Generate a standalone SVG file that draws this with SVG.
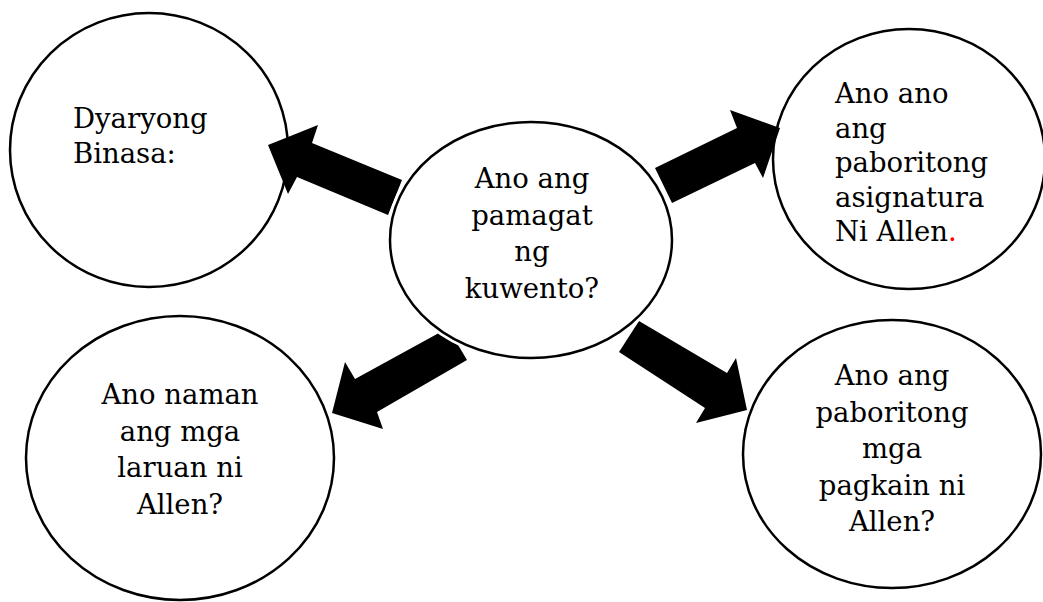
<svg xmlns="http://www.w3.org/2000/svg" width="1043" height="602" viewBox="0 0 1043 602">
<style>
.node{fill:#fff;stroke:#000;stroke-width:2.5}
.halo{fill:none;stroke:#fff;stroke-width:8}
.arrow{fill:#000;stroke:none}
text{font-family:"DejaVu Serif","Liberation Serif",serif;font-size:27.5px;fill:#000}
.c{text-anchor:middle}
.red{fill:#ff0000}
</style>
<rect width="1043" height="602" fill="#fff"/>
<g id="node-dyaryong">
<ellipse class="node" cx="149" cy="150" rx="139" ry="137"/>
<text x="73" y="128">Dyaryong</text>
<text x="73" y="163">Binasa:</text>
</g>
<g id="node-asignatura">
<ellipse class="node" cx="909" cy="159" rx="136" ry="130"/>
<text x="835" y="103">Ano ano</text>
<text x="835" y="137.5">ang</text>
<text x="835" y="172">paboritong</text>
<text x="835" y="206.5">asignatura</text>
<text x="835" y="241">Ni Allen<tspan class="red">.</tspan></text>
</g>
<g id="node-laruan">
<ellipse class="node" cx="180" cy="458" rx="154" ry="142"/>
<text class="c" x="180" y="404">Ano naman</text>
<text class="c" x="180" y="440.5">ang mga</text>
<text class="c" x="180" y="477">laruan ni</text>
<text class="c" x="180" y="513.5">Allen?</text>
</g>
<g id="node-pagkain">
<ellipse class="node" cx="892" cy="454" rx="149" ry="134"/>
<text class="c" x="892" y="385">Ano ang</text>
<text class="c" x="892" y="421.5">paboritong</text>
<text class="c" x="892" y="458">mga</text>
<text class="c" x="892" y="494.5">pagkain ni</text>
<text class="c" x="892" y="531">Allen?</text>
</g>
<g id="connectors">
<polygon class="arrow" points="268,145 318,125 312,143 402,180 388,215 297,177 288,194"/>
<polygon class="arrow" points="655,168 737,128 730,110 780,128 763,178 755,163 672,203"/>
<polygon class="arrow" points="448,328 467,360 377,412 383,429 332,413 345,362 355,379"/>
<polygon class="arrow" points="639,321 727,373 736,358 747,410 696,423 705,408 619,352"/>
</g>
<g id="node-pamagat">
<ellipse class="halo" cx="531" cy="240" rx="141" ry="118"/>
<ellipse class="node" cx="531" cy="240" rx="141" ry="118"/>
<text class="c" x="532" y="188">Ano ang</text>
<text class="c" x="532" y="224.5">pamagat</text>
<text class="c" x="532" y="261">ng</text>
<text class="c" x="532" y="297.5">kuwento?</text>
</g>
</svg>
